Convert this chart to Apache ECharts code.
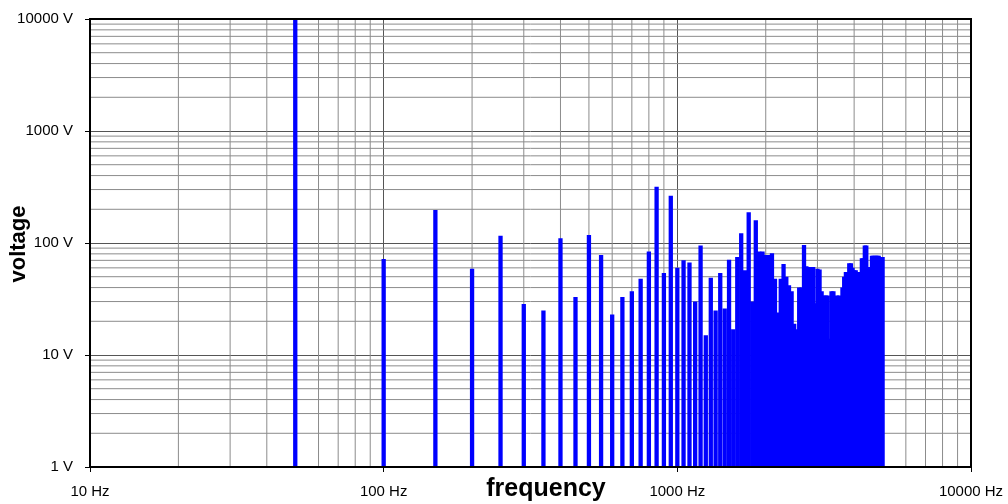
<!DOCTYPE html>
<html>
<head>
<meta charset="utf-8">
<script src="https://cdn.jsdelivr.net/npm/echarts@6/dist/echarts.min.js"></script>
<style>html,body{margin:0;padding:0;background:#fff;}#chart{width:1008px;height:504px;}</style>
</head>
<body>
<div id="chart"></div>
<script>
// Harmonic frequencies (Hz)
var frequencies = [50,100,150,200,250,300,350,400,450,500,550,600,650,700,750,800,850,900,950,1000,
  1050,1100,1150,1200,1250,1300,1350,1400,1450,1500,1550,1600,1650,1700,1750,1800,1850,1900,1950,2000,
  2050,2100,2150,2200,2250,2300,2350,2400,2450,2500,2550,2600,2650,2700,2750,2800,2850,2900,2950,3000,
  3050,3100,3150,3200,3250,3300,3350,3400,3450,3500,3550,3600,3650,3700,3750,3800,3850,3900,3950,4000,
  4050,4100,4150,4200,4250,4300,4350,4400,4450,4500,4550,4600,4650,4700,4750,4800,4850,4900,4950,5000];
// Voltage amplitudes (V)
var voltages = [10000,72,197,59,116,28.5,25,110,33,118,78,23,33,37,48,84,318,54,264,60,
  70,67,30,95,15,49,25,54,26,71,17,75,122,57,188,30,160,84,84,78,
  78,81,48,24,48,65,50,42,37,19,17,40,40,96,62,61,61,61,29,59,
  58,37,34,34,34,14,37,37,30,34,34,30,40,50,55,52,66,66,60,57,
  57,55,55,30,73,73,95,95,61,61,61,77,77,77,77,77,77,61,75,75];
// Axis ranges / tick labels
var xMin = 10, xMax = 10000;
var yMin = 1, yMax = 10000;
var xMinorLines = [20,30,40,50,60,70,80,90,200,300,400,500,600,700,800,900,2000,3000,4000,5000,6000,7000,8000,9000];
var yMinorLines = [2,3,4,5,6,7,8,9,20,30,40,50,60,70,80,90,200,300,400,500,600,700,800,900,2000,3000,4000,5000,6000,7000,8000,9000];

var barData = frequencies.map(function (f, i) { return [f, voltages[i]]; });
var gridData = [];
xMinorLines.forEach(function (v) { gridData.push([v, yMin, 0]); });
yMinorLines.forEach(function (v) { gridData.push([xMin, v, 1]); });

var font = 'Liberation Sans, Arial, sans-serif';
var chart = echarts.init(document.getElementById('chart'));
chart.setOption({
  animation: false,
  backgroundColor: '#fff',
  grid: { left: 90, right: 37, top: 19, bottom: 37, show: true, borderColor: '#000', borderWidth: 2, backgroundColor: 'transparent', z: 5 },
  xAxis: {
    type: 'log', logBase: 10, min: xMin, max: xMax,
    axisLine: { show: true, lineStyle: { color: '#000', width: 2 } },
    axisTick: { show: true, inside: false, length: 5, lineStyle: { color: '#000', width: 1 } },
    splitLine: { show: true, lineStyle: { color: '#555', width: 1 } },
    minorTick: { show: false }, minorSplitLine: { show: false },
    axisLabel: { fontSize: 15, color: '#000', fontFamily: font, margin: 17,
      formatter: function (v) { return Math.round(v) + ' Hz'; } }
  },
  yAxis: {
    type: 'log', logBase: 10, min: yMin, max: yMax,
    axisLine: { show: true, lineStyle: { color: '#000', width: 2 } },
    axisTick: { show: true, inside: false, length: 5, lineStyle: { color: '#000', width: 1 } },
    splitLine: { show: true, lineStyle: { color: '#555', width: 1 } },
    axisLabel: { fontSize: 15, color: '#000', fontFamily: font, margin: 17,
      formatter: function (v) { return Math.round(v) + ' V'; } }
  },
  graphic: [
    { type: 'text', x: 546, y: 489, z: 10, style: { text: 'frequency', fontSize: 25, fontWeight: 'bold', fontFamily: font, fill: '#000', align: 'center', verticalAlign: 'middle' } },
    { type: 'text', x: 19, y: 244, rotation: Math.PI / 2, z: 10, style: { text: 'voltage', fontSize: 22, fontWeight: 'bold', fontFamily: font, fill: '#000', align: 'center', verticalAlign: 'middle' } }
  ],
  series: [
    {
      type: 'custom', silent: true, z: 1,
      data: gridData,
      renderItem: function (params, api) {
        var v0 = api.value(0), v1 = api.value(1), kind = api.value(2);
        var p1, p2;
        if (kind === 0) { p1 = api.coord([v0, yMin]); p2 = api.coord([v0, yMax]); }
        else { p1 = api.coord([xMin, v1]); p2 = api.coord([xMax, v1]); }
        return { type: 'line', shape: { x1: p1[0], y1: p1[1], x2: p2[0], y2: p2[1] },
          style: { stroke: '#8c8c8c', lineWidth: 1 } };
      }
    },
    {
      type: 'custom', silent: true, z: 3, clip: true,
      data: barData,
      renderItem: function (params, api) {
        var top = api.coord([api.value(0), api.value(1)]);
        var base = api.coord([api.value(0), yMin]);
        var w = 4.3;
        return { type: 'rect', shape: { x: top[0] - w / 2, y: top[1], width: w, height: base[1] - top[1] },
          style: { fill: '#0000ff' } };
      }
    }
  ]
});
</script>
</body>
</html>
